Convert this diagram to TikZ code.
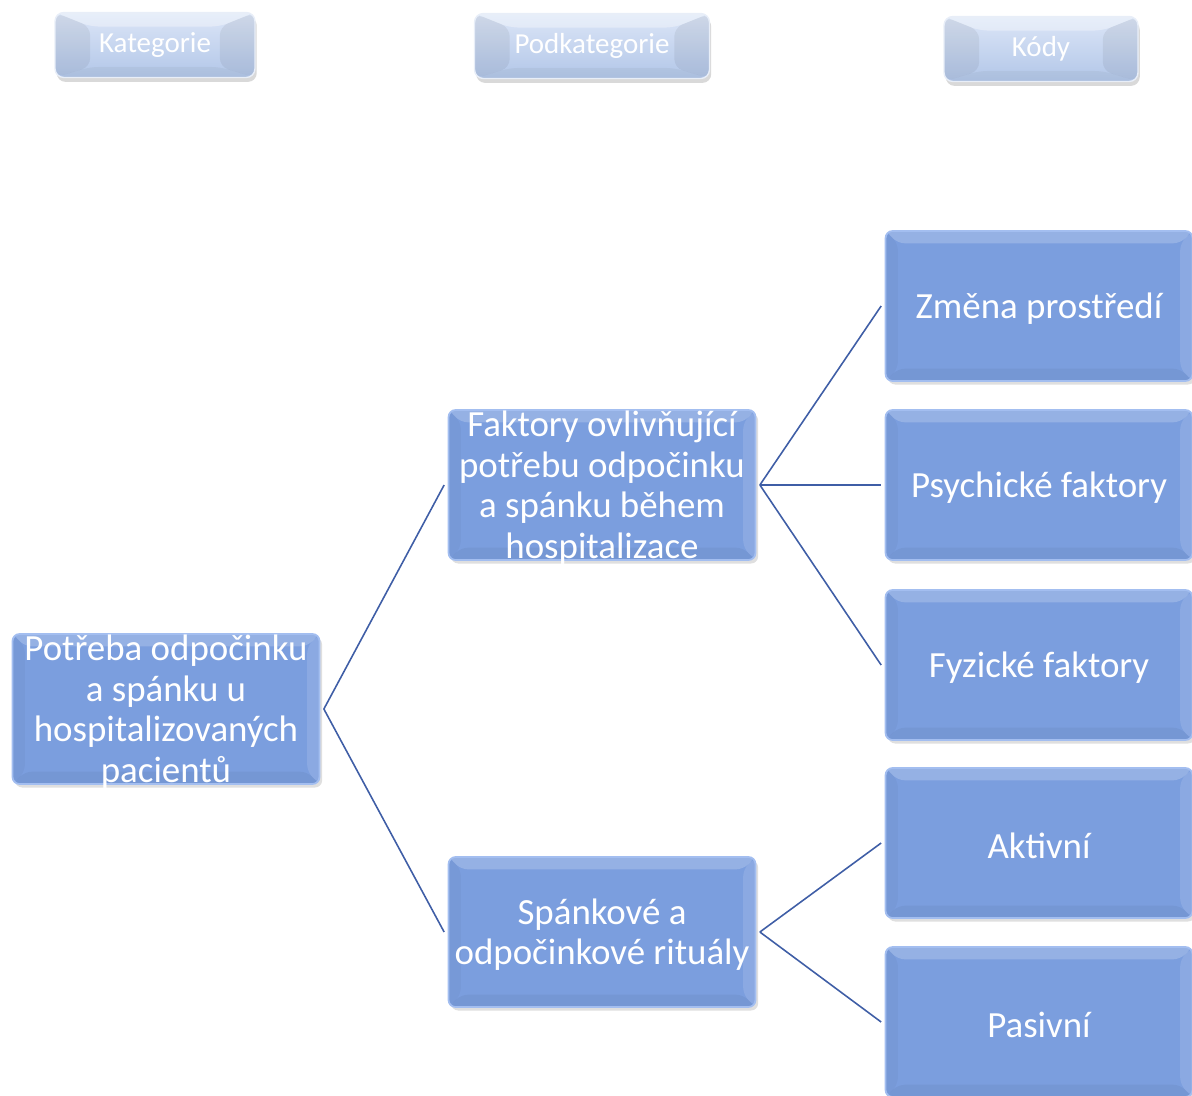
\documentclass[tikz,border=0pt]{standalone}
\usepackage{fontspec}
\setmainfont{Carlito}
\usetikzlibrary{shadows}
\definecolor{boxblue}{HTML}{7B9EDE}
\definecolor{boxedge}{HTML}{A3BEF0}
\definecolor{headtop}{HTML}{DCE6F7}
\definecolor{headbot}{HTML}{B2C6E8}
\definecolor{linkblue}{HTML}{3F5EA6}
\tikzset{
    bevel/.style={path picture={
        \fill[white,opacity=0.2] (path picture bounding box.north west) -- (path picture bounding box.north east)
            -- ([shift={(-7pt,-7pt)}]path picture bounding box.north east) -- ([shift={(7pt,-7pt)}]path picture bounding box.north west) -- cycle;
        \fill[white,opacity=0.12] (path picture bounding box.north east) -- (path picture bounding box.south east)
            -- ([shift={(-7pt,7pt)}]path picture bounding box.south east) -- ([shift={(-7pt,-7pt)}]path picture bounding box.north east) -- cycle;
        \fill[black,opacity=0.045] (path picture bounding box.south west) -- (path picture bounding box.south east)
            -- ([shift={(-7pt,7pt)}]path picture bounding box.south east) -- ([shift={(7pt,7pt)}]path picture bounding box.south west) -- cycle;
        \fill[black,opacity=0.03] (path picture bounding box.north west) -- (path picture bounding box.south west)
            -- ([shift={(7pt,7pt)}]path picture bounding box.south west) -- ([shift={(7pt,-7pt)}]path picture bounding box.north west) -- cycle;
    }},
    headbevel/.style={path picture={
        \fill[white,opacity=0.35] (path picture bounding box.north west) -- (path picture bounding box.north east)
            -- ([shift={(-20pt,-8pt)}]path picture bounding box.north east) -- ([shift={(20pt,-8pt)}]path picture bounding box.north west) -- cycle;
        \fill[black,opacity=0.06] (path picture bounding box.north west) -- (path picture bounding box.south west)
            -- ([shift={(20pt,6pt)}]path picture bounding box.south west) -- ([shift={(20pt,-8pt)}]path picture bounding box.north west) -- cycle;
        \fill[black,opacity=0.06] (path picture bounding box.north east) -- (path picture bounding box.south east)
            -- ([shift={(-20pt,6pt)}]path picture bounding box.south east) -- ([shift={(-20pt,-8pt)}]path picture bounding box.north east) -- cycle;
        \fill[black,opacity=0.04] (path picture bounding box.south west) -- (path picture bounding box.south east)
            -- ([shift={(-20pt,6pt)}]path picture bounding box.south east) -- ([shift={(20pt,6pt)}]path picture bounding box.south west) -- cycle;
    }},
    box/.style={rectangle, rounded corners=4pt, fill=boxblue, draw=boxedge, line width=1pt,
        minimum width=6.14cm, minimum height=3cm, bevel,
        drop shadow={opacity=0.25, shadow xshift=1.5pt, shadow yshift=-2pt}},
    boxtext/.style={text=white, align=center, inner sep=0pt, yshift=-1.5pt, font=\fontsize{21}{23.3}\selectfont},
    headbox/.style={rectangle, rounded corners=5pt, top color=headtop, bottom color=headbot,
        draw=white!70!headbot, line width=0.8pt, minimum height=1.3cm, headbevel,
        text=white, font=\fontsize{16.5}{19}\selectfont,
        drop shadow={opacity=0.3, shadow xshift=1pt, shadow yshift=-2.5pt}},
    link/.style={draw=linkblue, line width=0.9pt},
}
\begin{document}
\begin{tikzpicture}[x=0.02cm,y=-0.02cm]
    \useasboundingbox (0,0) rectangle (1192,1095);
    % Column headings
    \node[headbox, minimum width=4cm] (hkat) at (155,45) {Kategorie};
    \node[headbox, minimum width=4.7cm] (hpod) at (592,46) {Podkategorie};
    \node[headbox, minimum width=3.88cm] (hkod) at (1041,49) {Kódy};
    % Category
    \node[box] (main) at (166,709) {};
    \node[boxtext] at (main) {Potřeba odpočinku\\a spánku u\\hospitalizovaných\\pacientů};
    % Subcategories
    \node[box] (fakt) at (602,485) {};
    \node[boxtext] at (fakt) {Faktory ovlivňující\\potřebu odpočinku\\a spánku během\\hospitalizace};
    \node[box] (rit) at (602,932) {};
    \node[boxtext] at (rit) {Spánkové a\\odpočinkové rituály};
    % Codes
    \node[box] (zmena) at (1039,306) {};
    \node[boxtext] at (zmena) {Změna prostředí};
    \node[box] (psych) at (1039,485) {};
    \node[boxtext] at (psych) {Psychické faktory};
    \node[box] (fyz) at (1039,665) {};
    \node[boxtext] at (fyz) {Fyzické faktory};
    \node[box] (akt) at (1039,843) {};
    \node[boxtext] at (akt) {Aktivní};
    \node[box] (pas) at (1039,1022) {};
    \node[boxtext] at (pas) {Pasivní};
    % Connectors
    \draw[link] ([xshift=2pt]main.east) -- ([xshift=-2pt]fakt.west);
    \draw[link] ([xshift=2pt]main.east) -- ([xshift=-2pt]rit.west);
    \draw[link] ([xshift=2pt]fakt.east) -- ([xshift=-2pt]zmena.west);
    \draw[link] ([xshift=2pt]fakt.east) -- ([xshift=-2pt]psych.west);
    \draw[link] ([xshift=2pt]fakt.east) -- ([xshift=-2pt]fyz.west);
    \draw[link] ([xshift=2pt]rit.east) -- ([xshift=-2pt]akt.west);
    \draw[link] ([xshift=2pt]rit.east) -- ([xshift=-2pt]pas.west);
\end{tikzpicture}
\end{document}
